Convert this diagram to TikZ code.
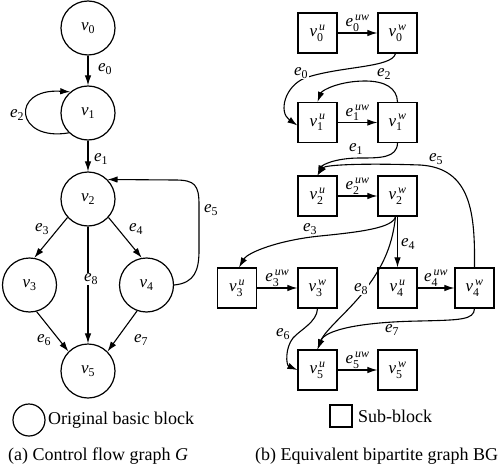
\documentclass[tikz,border=0pt]{standalone}
\usepackage{amsmath}
\usepackage{fontspec}
\setmainfont{Liberation Serif}
\usetikzlibrary{arrows.meta}
\newcommand{\myv}[1]{$\text{\itshape v}_{\text{#1}}$}
\newcommand{\mye}[1]{$\text{\itshape e}_{\text{#1}}$}
\newcommand{\mysv}[2]{$\text{\itshape v}_{\text{#1}}^{\,\text{\itshape #2}}$}
\newcommand{\myeuw}[1]{$\text{\itshape e}_{\text{#1}}^{\,\text{\itshape uw}}$}
\begin{document}
\begin{tikzpicture}[x=1pt,y=-1pt,
  lblfont/.style={font=\fontsize{17}{20}\selectfont},
  bb/.style={circle, draw, line width=1.2pt, minimum size=54pt, inner sep=0pt, lblfont},
  sb/.style={draw, line width=1.2pt, minimum width=39pt, minimum height=40pt, inner sep=0pt, lblfont},
  edge/.style={line width=1.1pt, -{Latex[length=10pt,width=6.5pt]}},
  elab/.style={inner sep=1pt, fill=white, lblfont},
  captext/.style={font=\fontsize{18}{21}\selectfont, inner sep=0pt, anchor=west}]
\useasboundingbox (0,0) rectangle (500,468);
% ---- left graph
\node[bb] (v0) at (88,28) {\myv{0}};
\node[bb] (v1) at (88,113) {\myv{1}};
\node[bb] (v2) at (88,199) {\myv{2}};
\node[bb] (v3) at (29.5,285) {\myv{3}};
\node[bb] (v4) at (146.5,285) {\myv{4}};
\node[bb] (v5) at (88,371) {\myv{5}};
\draw[edge] (v0) -- (v1);
\draw[edge] (v1) -- (v2);
\draw[edge] (v1.226) .. controls (15,142) and (10,88) .. (v1.130);
\draw[edge] (v2.222) -- (v3.80);
\draw[edge] (v2.318) -- (v4.100);
\draw[edge] (v2) -- (v5);
\draw[edge] (v3.-75) -- (v5.135);
\draw[edge] (v4.250) -- (v5.45);
\draw[edge] (v4.east) .. controls (195,283) and (199,270) .. (199,250) -- (199,205) .. controls (199,185) and (195,180) .. (175,180) -- (v2.45);
\node[elab] (le0) at (105,69) {\mye{0}};
\node[elab] (le1) at (101,159) {\mye{1}};
\node[elab] (le2) at (17,115) {\mye{2}};
\node[elab] (le3) at (42,229) {\mye{3}};
\node[elab] (le4) at (136,229) {\mye{4}};
\node[elab] (le5) at (211,210) {\mye{5}};
\node[elab] (le6) at (44,340) {\mye{6}};
\node[elab] (le7) at (141,340) {\mye{7}};
\node[elab] (le8) at (91,279) {\mye{8}};
% ---- right graph
\node[sb] (v0u) at (317.5,33) {\mysv{0}{u}};
\node[sb] (v0w) at (397.5,33) {\mysv{0}{w}};
\node[sb] (v1u) at (317.5,122.5) {\mysv{1}{u}};
\node[sb] (v1w) at (397.5,122.5) {\mysv{1}{w}};
\node[sb] (v2u) at (317.5,196) {\mysv{2}{u}};
\node[sb] (v2w) at (397.5,196) {\mysv{2}{w}};
\node[sb] (v3u) at (237,288) {\mysv{3}{u}};
\node[sb] (v3w) at (317.5,288) {\mysv{3}{w}};
\node[sb] (v4u) at (397.5,288) {\mysv{4}{u}};
\node[sb] (v4w) at (474.5,288) {\mysv{4}{w}};
\node[sb] (v5u) at (317.5,370) {\mysv{5}{u}};
\node[sb] (v5w) at (397.5,370) {\mysv{5}{w}};
\draw[edge] (v0u) -- node[above, inner sep=1pt, lblfont] (r0uw) {\myeuw{0}} (v0w);
\draw[edge] (v1u) -- node[above, inner sep=1pt, lblfont] (r1uw) {\myeuw{1}} (v1w);
\draw[edge] (v2u) -- node[above, inner sep=1pt, lblfont] (r2uw) {\myeuw{2}} (v2w);
\draw[edge] (v3u) -- node[above, inner sep=1pt, lblfont] (r3uw) {\myeuw{3}} (v3w);
\draw[edge] (v4u) -- node[above, inner sep=1pt, lblfont] (r4uw) {\myeuw{4}} (v4w);
\draw[edge] (v5u) -- node[above, inner sep=1pt, lblfont] (r5uw) {\myeuw{5}} (v5w);
\draw[edge] (v2w) -- (v4u);
\draw[edge] ([xshift=-2pt]v0w.south) .. controls (392,68) and (340,66) .. (305,78) .. controls (285,86) and (278,112) .. ([yshift=-3pt]v1u.west);
\draw[edge] (v1w.north) .. controls (397,88) and (385,81) .. (365,81) .. controls (340,81) and (322,90) .. (v1u.north);
\draw[edge] (v1w.south) .. controls (397,158) and (380,158) .. (360,158) .. controls (335,158) and (322,165) .. (v2u.north);
\draw[edge] (v4w.north) .. controls (475,215) and (472,168) .. (420,165) .. controls (360,163) and (325,165) .. (v2u.north);
\draw[edge] ([xshift=-2pt]v2w.south) .. controls (393,228) and (360,232) .. (320,236) .. controls (280,240) and (248,252) .. ([xshift=2pt]v3u.north);
\draw[edge] ([xshift=-2pt]v2w.south) .. controls (392,250) and (380,270) .. (365,290) .. controls (350,310) and (325,330) .. (v5u.north);
\draw[edge] (v3w.south) .. controls (317,322) and (300,330) .. (293,338) .. controls (285,348) and (286,365) .. (v5u.west);
\draw[edge] (v4w.south) .. controls (474,320) and (460,320) .. (420,321) .. controls (360,322) and (325,330) .. (v5u.north);
\node[elab] (re0) at (301,73) {\mye{0}};
\node[elab] (re1) at (356,149) {\mye{1}};
\node[elab] (re2) at (384,74) {\mye{2}};
\node[elab] (re3) at (310,229) {\mye{3}};
\node[elab] (re4) at (408,244) {\mye{4}};
\node[elab] (re5) at (436,159) {\mye{5}};
\node[elab] (re6) at (283,334) {\mye{6}};
\node[elab] (re7) at (392,330) {\mye{7}};
\node[elab] (re8) at (361,289) {\mye{8}};
% ---- legend and captions
\node[circle, draw, line width=1.2pt, minimum size=32pt, inner sep=0pt] (lc) at (29,420) {};
\node[captext] (lct) at (48,420) {Original basic block};
\node[draw, line width=1.2pt, minimum size=22pt, inner sep=0pt] (ls) at (341,416) {};
\node[captext] (lst) at (358,416) {Sub-block};
\node[captext] (capa) at (8,456) {(a) Control flow graph \textit{G}};
\node[captext] (capb) at (255,456) {(b) Equivalent bipartite graph BG};
\end{tikzpicture}
\end{document}
